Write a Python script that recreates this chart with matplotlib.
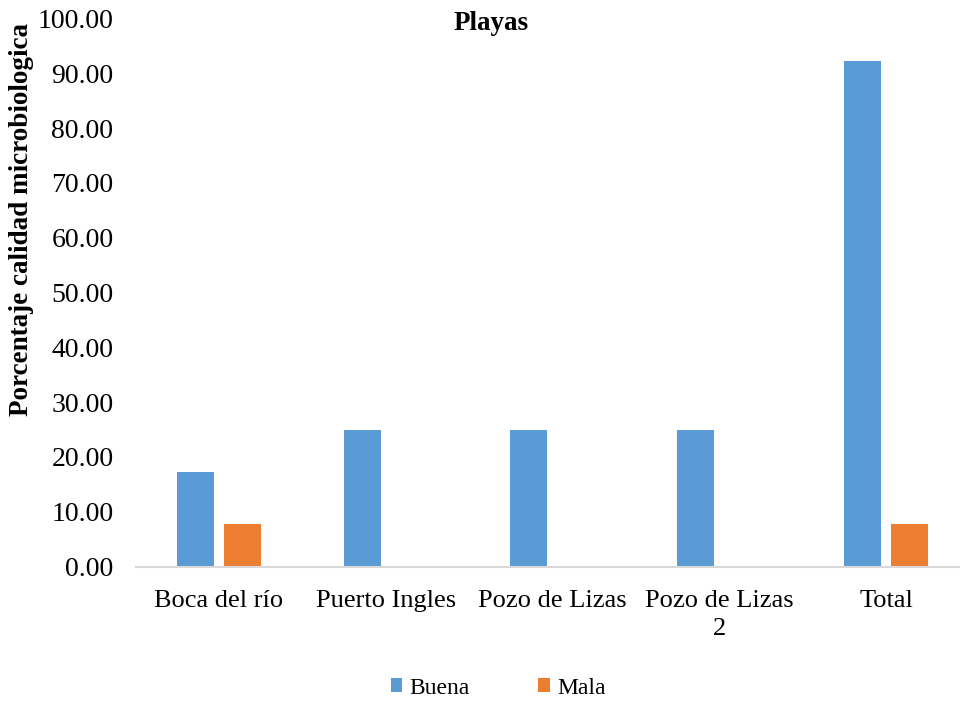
import matplotlib.pyplot as plt
import numpy as np

plt.rcParams["font.family"] = ["Liberation Serif", "DejaVu Serif"]

categories = ["Boca del río", "Puerto Ingles", "Pozo de Lizas", "Pozo de Lizas\n2", "Total"]
buena = [17.31, 25.00, 25.00, 25.00, 92.31]
mala = [7.69, 0.0, 0.0, 0.0, 7.69]

BLUE = "#5B9BD5"
ORANGE = "#ED7D31"

fig = plt.figure(figsize=(9.6, 7.01), dpi=100)
W, H = 960, 701
left, right = 135.6, 969.4
bottom, top = 566.5, 18.6
ax = fig.add_axes([left / W, 1 - bottom / H, (right - left) / W, (bottom - top) / H])

x = np.arange(len(categories))
width = 0.222
gap = 0.06
ax.bar(x - (width + gap) / 2, buena, width, color=BLUE, label="Buena")
ax.bar(x + (width + gap) / 2, mala, width, color=ORANGE, label="Mala")

ax.set_xlim(-0.5, len(categories) - 0.5)
ax.set_ylim(0, 100)
ax.set_yticks(np.arange(0, 101, 10))
ax.set_yticklabels(["{:.2f}".format(v) for v in np.arange(0, 101, 10)], fontsize=20)
ax.set_xticks(x)
ax.set_xticklabels(categories, fontsize=19, linespacing=1.35)
ax.tick_params(axis="y", length=0, pad=16)
ax.tick_params(axis="x", length=0, pad=17)

for side in ["top", "right", "left"]:
    ax.spines[side].set_visible(False)
ax.spines["bottom"].set_color("#D9D9D9")
ax.spines["bottom"].set_linewidth(1.5)

fig.text(491 / W, 1 - 24 / H, "Playas", fontsize=19.5, fontweight="bold", ha="center", va="center")
fig.text(22 / W, 1 - 220 / H, "Porcentaje calidad microbiologica", fontsize=19.5,
         fontweight="bold", rotation=90, ha="center", va="center")

fig.legend(loc="center", bbox_to_anchor=(498 / W, 1 - 688 / H), ncol=2, frameon=False,
           fontsize=17, handlelength=0.5, handleheight=0.5, handletextpad=0.3,
           columnspacing=2.9)

fig.savefig("out.png")
